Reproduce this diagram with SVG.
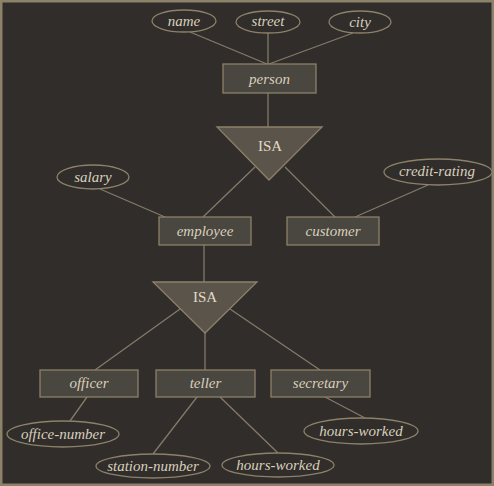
<svg xmlns="http://www.w3.org/2000/svg" width="494" height="486" viewBox="0 0 494 486">
<style>
.bg{fill:#302d2b;stroke:#8c8169;stroke-width:2.5}
.ln{stroke:#857a69;stroke-width:1.3;fill:none}
.ent{fill:#4a4640;stroke:#8c8169;stroke-width:1.3}
.att{fill:#302d2b;stroke:#8c8169;stroke-width:1.3}
.isa{fill:#5b544b;stroke:#8c8169;stroke-width:1.3}
.t{font-family:"Liberation Serif",serif;font-style:italic;font-size:15px;fill:#d8d0bc;text-anchor:middle;dominant-baseline:central}
.ti{font-family:"Liberation Serif",serif;font-size:15px;fill:#e2dac6;text-anchor:middle;dominant-baseline:central}
</style>
<rect class="bg" x="1.25" y="1.25" width="491.5" height="483.5"/>
<g id="connectors">
<line class="ln" x1="190" y1="32" x2="267" y2="64"/>
<line class="ln" x1="268" y1="33" x2="268" y2="64"/>
<line class="ln" x1="353" y1="33" x2="269" y2="64"/>
<line class="ln" x1="268" y1="93" x2="268" y2="127"/>
<line class="ln" x1="255" y1="167" x2="203" y2="217"/>
<line class="ln" x1="285" y1="167" x2="335" y2="217"/>
<line class="ln" x1="100" y1="189" x2="165" y2="217"/>
<line class="ln" x1="428" y1="185" x2="355" y2="217"/>
<line class="ln" x1="204" y1="245" x2="204" y2="282"/>
<line class="ln" x1="180" y1="309" x2="95" y2="370"/>
<line class="ln" x1="205" y1="333" x2="205" y2="370"/>
<line class="ln" x1="230" y1="309" x2="320" y2="370"/>
<line class="ln" x1="87" y1="397" x2="70" y2="421"/>
<line class="ln" x1="197" y1="397" x2="153" y2="454"/>
<line class="ln" x1="220" y1="397" x2="278" y2="453"/>
<line class="ln" x1="325" y1="397" x2="365" y2="418"/>
</g>
<g id="name"><ellipse class="att" cx="184" cy="21" rx="32" ry="11"/><text class="t" x="184" y="21">name</text></g>
<g id="street"><ellipse class="att" cx="268" cy="22" rx="32" ry="11"/><text class="t" x="268" y="21">street</text></g>
<g id="city"><ellipse class="att" cx="360" cy="22" rx="31" ry="11"/><text class="t" x="360" y="22">city</text></g>
<g id="person"><rect class="ent" x="223" y="64" width="93" height="29"/><text class="t" x="269.5" y="78.5">person</text></g>
<g id="isa1"><polygon class="isa" points="217,127 322,127 269,180"/><text class="ti" x="270" y="146">ISA</text></g>
<g id="salary"><ellipse class="att" cx="93" cy="177" rx="36" ry="12"/><text class="t" x="93" y="177">salary</text></g>
<g id="credit-rating"><ellipse class="att" cx="438" cy="172" rx="54" ry="13"/><text class="t" x="437" y="171">credit-rating</text></g>
<g id="employee"><rect class="ent" x="159" y="217" width="92" height="28"/><text class="t" x="205" y="231">employee</text></g>
<g id="customer"><rect class="ent" x="287" y="217" width="92" height="28"/><text class="t" x="333" y="231">customer</text></g>
<g id="isa2"><polygon class="isa" points="153,282 257,282 205,333"/><text class="ti" x="205" y="297">ISA</text></g>
<g id="officer"><rect class="ent" x="40" y="370" width="98" height="27"/><text class="t" x="89" y="383">officer</text></g>
<g id="teller"><rect class="ent" x="156" y="370" width="99" height="27"/><text class="t" x="205.5" y="383">teller</text></g>
<g id="secretary"><rect class="ent" x="271" y="370" width="99" height="27"/><text class="t" x="320.5" y="383">secretary</text></g>
<g id="office-number"><ellipse class="att" cx="63" cy="434" rx="56" ry="13"/><text class="t" x="63" y="434">office-number</text></g>
<g id="station-number"><ellipse class="att" cx="153" cy="466" rx="57" ry="12"/><text class="t" x="153" y="466">station-number</text></g>
<g id="hours-worked-teller"><ellipse class="att" cx="278" cy="465" rx="56" ry="12"/><text class="t" x="278" y="465">hours-worked</text></g>
<g id="hours-worked-secretary"><ellipse class="att" cx="361" cy="431" rx="57" ry="13"/><text class="t" x="361" y="431">hours-worked</text></g>
</svg>
